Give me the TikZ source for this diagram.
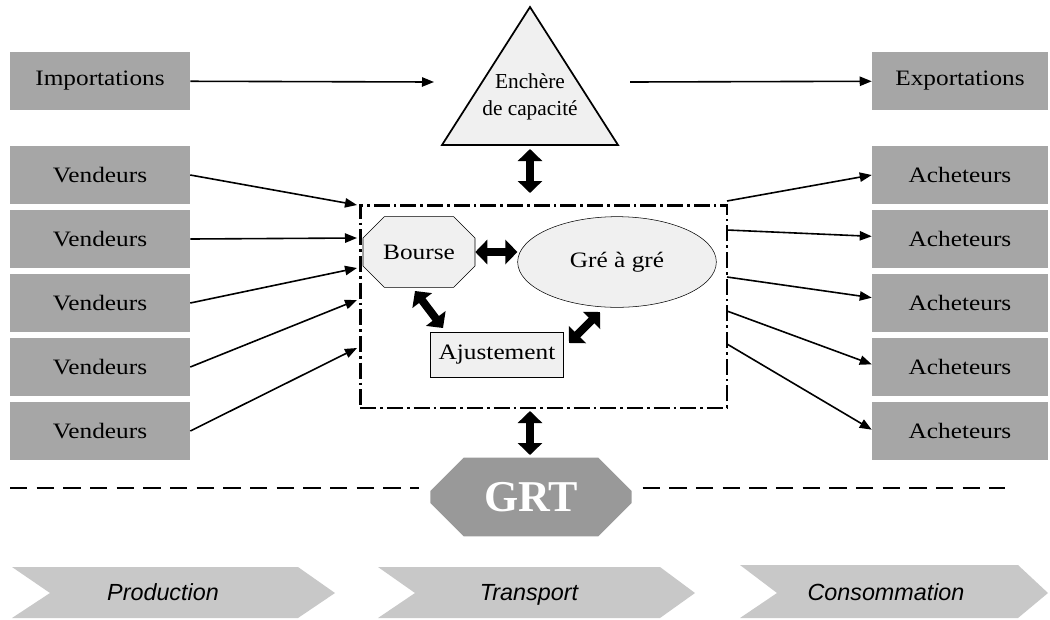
\documentclass[tikz,border=0pt]{standalone}
\usepackage{fontspec}
\setmainfont{Liberation Serif}
\newfontfamily\boxfont[FakeStretch=1.15]{Liberation Serif}
\newfontfamily\arialfont{Liberation Sans}
\usetikzlibrary{arrows.meta,shapes.misc,shapes.geometric}
\definecolor{boxgray}{RGB}{166,166,166}
\definecolor{chevgray}{RGB}{200,200,200}
\definecolor{grtgray}{RGB}{153,153,153}
\definecolor{lightfill}{RGB}{240,240,240}
\tikzset{
  boxtext/.style={font=\boxfont\fontsize{16.5}{19}\selectfont},
  actor/.style={fill=boxgray, minimum width=135pt, minimum height=43pt, boxtext},
  flow/.style={line width=1.2pt, -{Triangle[length=9pt,width=7pt]}},
  bigarrow/.style={line width=6pt, {Triangle[length=9pt,width=18pt]}-{Triangle[length=9pt,width=18pt]}},
  chev/.style={fill=chevgray},
  chevtext/.style={anchor=base, font=\arialfont\itshape\fontsize{17.5}{19}\selectfont},
}
\begin{document}
\begin{tikzpicture}[x=0.75pt,y=-0.75pt]
  \useasboundingbox (0,0) rectangle (1050,619);
  % acteurs
  \node[actor] (imp) at (100,81) {Importations};
  \node[actor] (v1) at (100,175) {Vendeurs};
  \node[actor] (v2) at (100,239) {Vendeurs};
  \node[actor] (v3) at (100,303) {Vendeurs};
  \node[actor] (v4) at (100,367) {Vendeurs};
  \node[actor] (v5) at (100,431) {Vendeurs};
  \node[actor, minimum width=132pt] (exp) at (960,81) {Exportations};
  \node[actor, minimum width=132pt] (a1) at (960,175) {Acheteurs};
  \node[actor, minimum width=132pt] (a2) at (960,239) {Acheteurs};
  \node[actor, minimum width=132pt] (a3) at (960,303) {Acheteurs};
  \node[actor, minimum width=132pt] (a4) at (960,367) {Acheteurs};
  \node[actor, minimum width=132pt] (a5) at (960,431) {Acheteurs};
  % enchere
  \draw[fill=lightfill, line width=1.3pt] (530,7) -- (618,145) -- (442,145) -- cycle;
  \node[align=center, font=\fontsize{16}{20}\selectfont] (ench) at (530,97) {Enchère\\de capacité};
  \coordinate (tl) at (434,82);
  \coordinate (tr) at (630,82);
  \coordinate (tb) at (530,149);
  \coordinate (mt) at (530,193);
  \draw[flow] (imp) -- (tl);
  \draw[flow] (tr) -- (exp);
  % marche
  \node[draw, line width=2pt, dash pattern=on 12pt off 3pt on 2pt off 3pt,
        minimum width=275pt, minimum height=152pt] (mkt) at (543.5,306.5) {};
  \node[chamfered rectangle, chamfered rectangle xsep=10.5pt, chamfered rectangle ysep=10.5pt,
        draw, fill=lightfill, minimum width=84pt, minimum height=53pt, inner sep=0pt,
        boxtext] (bourse) at (419,252) {Bourse};
  \node[ellipse, draw, fill=lightfill, minimum width=149pt, minimum height=68pt,
        boxtext] (gre) at (617,262) {Gré à gré};
  \node[draw, line width=1pt, fill=lightfill, minimum width=100pt, minimum height=34pt,
        inner sep=2pt, boxtext] (ajust) at (497,355) {Ajustement};
  \coordinate (ba1) at (415,291);
  \coordinate (ba2) at (443,328);
  \coordinate (ga1) at (600,312);
  \coordinate (ga2) at (569,343);
  \draw[bigarrow] (tb) -- (mt);
  \draw[bigarrow] (bourse.east) -- (gre.west |- bourse.east);
  \draw[bigarrow] (ba1) -- (ba2);
  \draw[bigarrow] (ga1) -- (ga2);
  % entrees et sorties
  \coordinate (i1) at (357,205);
  \coordinate (i2) at (357,238);
  \coordinate (i3) at (357,268);
  \coordinate (i4) at (357,300);
  \coordinate (i5) at (357,348);
  \draw[flow] (v1.east) -- (i1);
  \draw[flow] (v2.east) -- (i2);
  \draw[flow] (v3.east) -- (i3);
  \draw[flow] (v4.east) -- (i4);
  \draw[flow] (v5.east) -- (i5);
  \coordinate (o1) at (727,201);
  \coordinate (o2) at (727,230);
  \coordinate (o3) at (727,277);
  \coordinate (o4) at (727,311);
  \coordinate (o5) at (727,344);
  \draw[flow] (o1) -- ([yshift=0pt]a1.west);
  \draw[flow] (o2) -- ([yshift=2pt]a2.west);
  \draw[flow] (o3) -- ([yshift=4pt]a3.west);
  \draw[flow] (o4) -- ([yshift=2pt]a4.west);
  \draw[flow] (o5) -- ([yshift=1pt]a5.west);
  % GRT
  \node[chamfered rectangle, chamfered rectangle xsep=15pt, chamfered rectangle ysep=14pt,
        fill=grtgray, minimum width=151pt, minimum height=59pt, inner sep=0pt,
        text=white, font=\bfseries\fontsize{33}{35}\selectfont] (grt) at (531,497) {GRT};
  \coordinate (mb) at (530,411);
  \coordinate (gt) at (530,455);
  \draw[bigarrow] (mb) -- (gt);
  \coordinate (dl) at (10,488);
  \coordinate (dr) at (1005,488);
  \draw[line width=1.5pt, dash pattern=on 13pt off 7pt] (dl) -- ([xshift=-8pt]dl -| grt.west);
  \draw[line width=1.5pt, dash pattern=on 13pt off 7pt] ([xshift=8pt]dr -| grt.east) -- (dr);
  % etapes
  \fill[chev] (12,567) -- (298,567) -- (335,593) -- (298,618) -- (12,618) -- (50,593) -- cycle;
  \fill[chev] (378,567) -- (660,567) -- (695,593) -- (660,618) -- (378,618) -- (415,593) -- cycle;
  \fill[chev] (740,565) -- (1018,565) -- (1048,593) -- (1018,618) -- (740,618) -- (777,593) -- cycle;
  \node[chevtext] (prod) at (163,600) {Production};
  \node[chevtext] (trans) at (529,600) {Transport};
  \node[chevtext] (conso) at (886,600) {Consommation};
\end{tikzpicture}
\end{document}
